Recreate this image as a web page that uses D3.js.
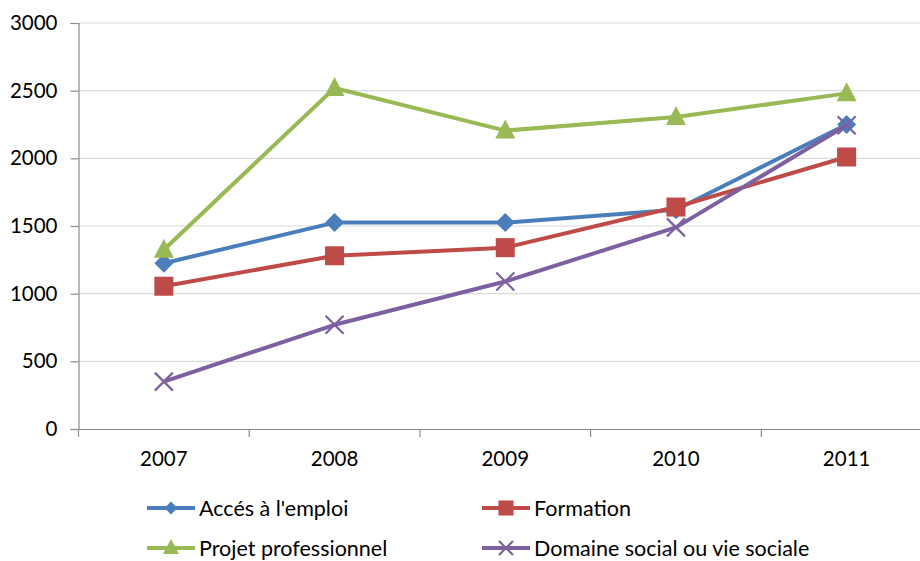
<!DOCTYPE html>
<html>
<head>
<meta charset="utf-8">
<script src="https://cdn.jsdelivr.net/npm/d3@7"></script>
<style>
  body { margin: 0; background: #fff; }
  svg text { font-family: Lato, "Open Sans", sans-serif; fill: #000; }
</style>
</head>
<body>
<svg id="chart"></svg>
<script>
const years = ["2007", "2008", "2009", "2010", "2011"];
const yTicks = [0, 500, 1000, 1500, 2000, 2500, 3000];

const accesEmploi = [1225, 1525, 1525, 1620, 2250];
const formation = [1055, 1280, 1340, 1640, 2010];
const projetPro = [1325, 2520, 2205, 2305, 2480];
const domaineSocial = [350, 770, 1090, 1490, 2245];

const series = [
    { name: "Accés à l'emploi", values: accesEmploi, color: "#4A7EBB", marker: "diamond" },
    { name: "Formation", values: formation, color: "#BE4B48", marker: "square" },
    { name: "Projet professionnel", values: projetPro, color: "#98B954", marker: "triangle" },
    { name: "Domaine social ou vie sociale", values: domaineSocial, color: "#7D60A0", marker: "cross" }
];

const width = 920, height = 561;
const svg = d3.select("#chart").attr("width", width).attr("height", height);

const plotLeft = 78.5, plotRight = 932, plotTop = 23, plotBottom = 429;

const x = d3.scaleBand().domain(years).range([plotLeft, plotRight]);
const y = d3.scaleLinear().domain([0, 3000]).range([plotBottom, plotTop]);

// gridlines
svg.append("g")
    .selectAll("line")
    .data(yTicks.filter(d => d > 0))
    .enter().append("line")
    .attr("x1", plotLeft).attr("x2", plotRight)
    .attr("y1", d => y(d)).attr("y2", d => y(d))
    .attr("stroke", "#d9d9d9")
    .attr("stroke-width", 1.2);

// y axis
const yAxis = svg.append("g")
    .attr("transform", `translate(${plotLeft},0)`)
    .call(d3.axisLeft(y).tickValues(yTicks).tickSize(8).tickPadding(13).tickFormat(d3.format("d")));
yAxis.select(".domain").attr("stroke", "#8c8c8c").attr("stroke-width", 1.2);
yAxis.selectAll(".tick line").attr("stroke", "#8c8c8c").attr("stroke-width", 1.2);
yAxis.selectAll("text").style("font-size", "20.5px");

// x axis
const xAxis = svg.append("g")
    .attr("transform", `translate(0,${plotBottom})`)
    .call(d3.axisBottom(x).tickSize(0).tickPadding(22));
xAxis.select(".domain").attr("stroke", "#8c8c8c").attr("stroke-width", 1.2).attr("d", `M${plotLeft - 8},0.5H${plotRight}`);
xAxis.selectAll("text").style("font-size", "20.5px");

// category boundary ticks
svg.append("g")
    .selectAll("line")
    .data(years)
    .enter().append("line")
    .attr("x1", d => x(d)).attr("x2", d => x(d))
    .attr("y1", plotBottom).attr("y2", plotBottom + 8)
    .attr("stroke", "#8c8c8c")
    .attr("stroke-width", 1.2);

const line = d3.line()
    .x((d, i) => x(years[i]) + x.bandwidth() / 2)
    .y(d => y(d));

function drawMarker(g, type, color, cx, cy, s) {
    if (type === "diamond") {
        g.append("path")
            .attr("d", `M${cx},${cy - s}L${cx + s},${cy}L${cx},${cy + s}L${cx - s},${cy}Z`)
            .attr("fill", color);
    } else if (type === "square") {
        g.append("rect")
            .attr("x", cx - s).attr("y", cy - s)
            .attr("width", 2 * s).attr("height", 2 * s)
            .attr("fill", color);
    } else if (type === "triangle") {
        g.append("path")
            .attr("d", `M${cx},${cy - s - 2}L${cx + s + 1},${cy + s - 1}L${cx - s - 1},${cy + s - 1}Z`)
            .attr("fill", color);
    } else {
        g.append("path")
            .attr("d", `M${cx - s},${cy - s}L${cx + s},${cy + s}M${cx - s},${cy + s}L${cx + s},${cy - s}`)
            .attr("stroke", color)
            .attr("stroke-width", 2.2)
            .attr("fill", "none");
    }
}

const markerSize = { diamond: 9.5, square: 9.5, triangle: 9, cross: 9 };
const legendMarkerSize = { diamond: 6.5, square: 7.5, triangle: 7, cross: 7 };

series.forEach(s => {
    const g = svg.append("g");
    g.append("path")
        .datum(s.values)
        .attr("d", line)
        .attr("fill", "none")
        .attr("stroke", s.color)
        .attr("stroke-width", 4)
        .attr("stroke-linejoin", "round");
    s.values.forEach((v, i) => {
        drawMarker(g, s.marker, s.color, x(years[i]) + x.bandwidth() / 2, y(v), markerSize[s.marker]);
    });
});

// legend
const legendPos = [
    { lx: 147, ly: 508 },
    { lx: 482, ly: 508 },
    { lx: 147, ly: 548 },
    { lx: 482, ly: 548 }
];

series.forEach((s, i) => {
    const p = legendPos[i];
    const g = svg.append("g");
    g.append("line")
        .attr("x1", p.lx).attr("x2", p.lx + 48)
        .attr("y1", p.ly).attr("y2", p.ly)
        .attr("stroke", s.color)
        .attr("stroke-width", 4);
    drawMarker(g, s.marker, s.color, p.lx + 24, p.ly, legendMarkerSize[s.marker]);
    g.append("text")
        .attr("x", p.lx + 52)
        .attr("y", p.ly)
        .attr("dy", "0.35em")
        .style("font-size", "21.5px")
        .text(s.name);
});
</script>
</body>
</html>
